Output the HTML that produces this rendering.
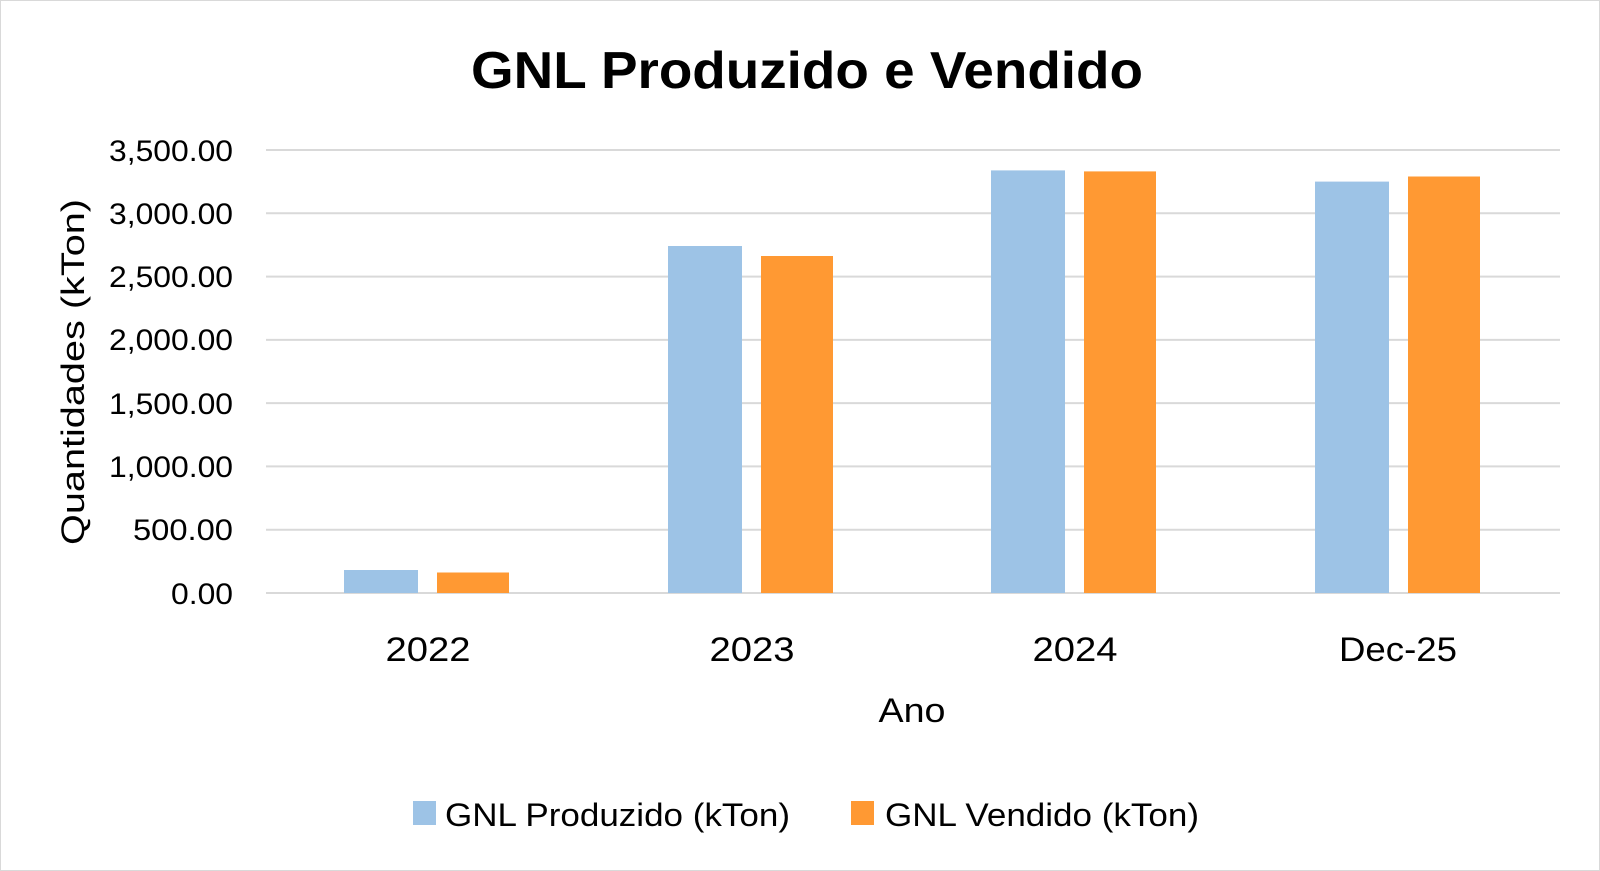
<!DOCTYPE html>
<html><head><meta charset="utf-8"><style>
html,body{margin:0;padding:0;background:#fff;}
svg{display:block;}
text{font-family:"Liberation Sans",sans-serif;fill:#000;}
</style></head><body>
<svg width="1600" height="871" viewBox="0 0 1600 871" xmlns="http://www.w3.org/2000/svg">
<rect x="0.5" y="0.5" width="1599" height="870" fill="#fff" stroke="#d9d9d9" stroke-width="1"/>
<text x="807" y="88" font-size="52" font-weight="bold" text-anchor="middle" textLength="672" lengthAdjust="spacingAndGlyphs">GNL Produzido e Vendido</text>
<g stroke="#d9d9d9" stroke-width="2">
<line x1="266" x2="1560" y1="150" y2="150"/>
<line x1="266" x2="1560" y1="213.3" y2="213.3"/>
<line x1="266" x2="1560" y1="276.6" y2="276.6"/>
<line x1="266" x2="1560" y1="339.9" y2="339.9"/>
<line x1="266" x2="1560" y1="403.1" y2="403.1"/>
<line x1="266" x2="1560" y1="466.4" y2="466.4"/>
<line x1="266" x2="1560" y1="529.7" y2="529.7"/>
<line x1="266" x2="1560" y1="593" y2="593"/>
</g>
<g font-size="30" text-anchor="end">
<text x="233" y="161" textLength="124" lengthAdjust="spacingAndGlyphs">3,500.00</text>
<text x="233" y="224" textLength="124" lengthAdjust="spacingAndGlyphs">3,000.00</text>
<text x="233" y="287" textLength="124" lengthAdjust="spacingAndGlyphs">2,500.00</text>
<text x="233" y="350" textLength="124" lengthAdjust="spacingAndGlyphs">2,000.00</text>
<text x="233" y="414" textLength="124" lengthAdjust="spacingAndGlyphs">1,500.00</text>
<text x="233" y="477" textLength="124" lengthAdjust="spacingAndGlyphs">1,000.00</text>
<text x="233" y="540" textLength="100" lengthAdjust="spacingAndGlyphs">500.00</text>
<text x="233" y="604" textLength="62" lengthAdjust="spacingAndGlyphs">0.00</text>
</g>
<g>
<rect x="344" y="570" width="74" height="23" fill="#9dc3e6"/>
<rect x="437" y="572.5" width="72" height="20.5" fill="#ff9933"/>
<rect x="668" y="246" width="74" height="347" fill="#9dc3e6"/>
<rect x="761" y="256" width="72" height="337" fill="#ff9933"/>
<rect x="991" y="170.4" width="74" height="422.6" fill="#9dc3e6"/>
<rect x="1084" y="171.4" width="72" height="421.6" fill="#ff9933"/>
<rect x="1315" y="181.6" width="74" height="411.4" fill="#9dc3e6"/>
<rect x="1408" y="176.5" width="72" height="416.5" fill="#ff9933"/>
</g>
<g font-size="34" text-anchor="middle">
<text x="428" y="661" textLength="85" lengthAdjust="spacingAndGlyphs">2022</text>
<text x="752" y="661" textLength="85" lengthAdjust="spacingAndGlyphs">2023</text>
<text x="1075" y="661" textLength="85" lengthAdjust="spacingAndGlyphs">2024</text>
<text x="1398" y="661" textLength="118" lengthAdjust="spacingAndGlyphs">Dec-25</text>
<text x="912" y="722" textLength="67" lengthAdjust="spacingAndGlyphs">Ano</text>
</g>
<text transform="translate(84,372) rotate(-90)" font-size="32" text-anchor="middle" textLength="346" lengthAdjust="spacingAndGlyphs">Quantidades  (kTon)</text>
<rect x="413" y="801" width="23" height="24" fill="#9dc3e6"/>
<text x="445" y="826" font-size="32" textLength="345" lengthAdjust="spacingAndGlyphs">GNL Produzido (kTon)</text>
<rect x="851" y="801" width="23" height="24" fill="#ff9933"/>
<text x="885" y="826" font-size="32" textLength="314" lengthAdjust="spacingAndGlyphs">GNL Vendido (kTon)</text>
</svg>
</body></html>
